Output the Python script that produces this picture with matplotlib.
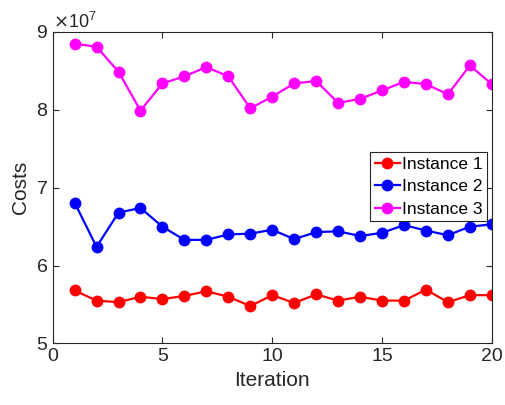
import numpy as np
import matplotlib.pyplot as plt
from matplotlib.ticker import ScalarFormatter

plt.rcParams['font.family'] = ['Liberation Sans', 'DejaVu Sans']

# Costs per iteration, in units of 1e7
iterations = list(range(1, 21))
instance1 = [5.68, 5.55, 5.53, 5.60, 5.57, 5.61, 5.67, 5.60, 5.48, 5.62,
             5.52, 5.63, 5.55, 5.60, 5.55, 5.55, 5.69, 5.53, 5.62, 5.62]
instance2 = [6.81, 6.24, 6.68, 6.74, 6.50, 6.33, 6.33, 6.40, 6.41, 6.46,
             6.34, 6.43, 6.44, 6.38, 6.42, 6.52, 6.45, 6.39, 6.50, 6.53]
instance3 = [8.85, 8.81, 8.49, 7.99, 8.34, 8.43, 8.55, 8.43, 8.02, 8.17,
             8.34, 8.37, 8.09, 8.14, 8.25, 8.36, 8.33, 8.20, 8.57, 8.33]
labels = ['Instance 1', 'Instance 2', 'Instance 3']
colors = ['#ff0000', '#0000ff', '#ff00ff']

fig = plt.figure(figsize=(5.06, 4.05), dpi=100)
ax = fig.add_axes([0.104, 0.152, 0.868, 0.769])

for vals, lab, col in zip([instance1, instance2, instance3], labels, colors):
    ax.plot(iterations, np.array(vals) * 1e7, '-o', color=col, lw=1.6,
            ms=7.5, label=lab)

ax.set_xlim(0, 20)
ax.set_ylim(5e7, 9e7)
ax.set_xticks([0, 5, 10, 15, 20])
ax.set_yticks([5e7, 6e7, 7e7, 8e7, 9e7])

fmt = ScalarFormatter(useMathText=True)
fmt.set_powerlimits((0, 0))
ax.yaxis.set_major_formatter(fmt)
ax.yaxis.get_offset_text().set_fontsize(13)

ax.tick_params(direction='in', length=4, labelsize=14, colors='#262626',
               top=True, right=True)
for s in ax.spines.values():
    s.set_color('#262626')
    s.set_linewidth(0.8)

ax.set_xlabel('Iteration', fontsize=15, color='#262626')
ax.set_ylabel('Costs', fontsize=15, color='#262626')

leg = ax.legend(loc='upper right', bbox_to_anchor=(0.99, 0.614), fontsize=12.5,
                fancybox=False, edgecolor='#262626', framealpha=1,
                handlelength=1.45, handletextpad=0.15, borderpad=0.25,
                labelspacing=0.42, borderaxespad=0)
leg.get_frame().set_linewidth(0.8)

fig.savefig('out.png', dpi=100)
